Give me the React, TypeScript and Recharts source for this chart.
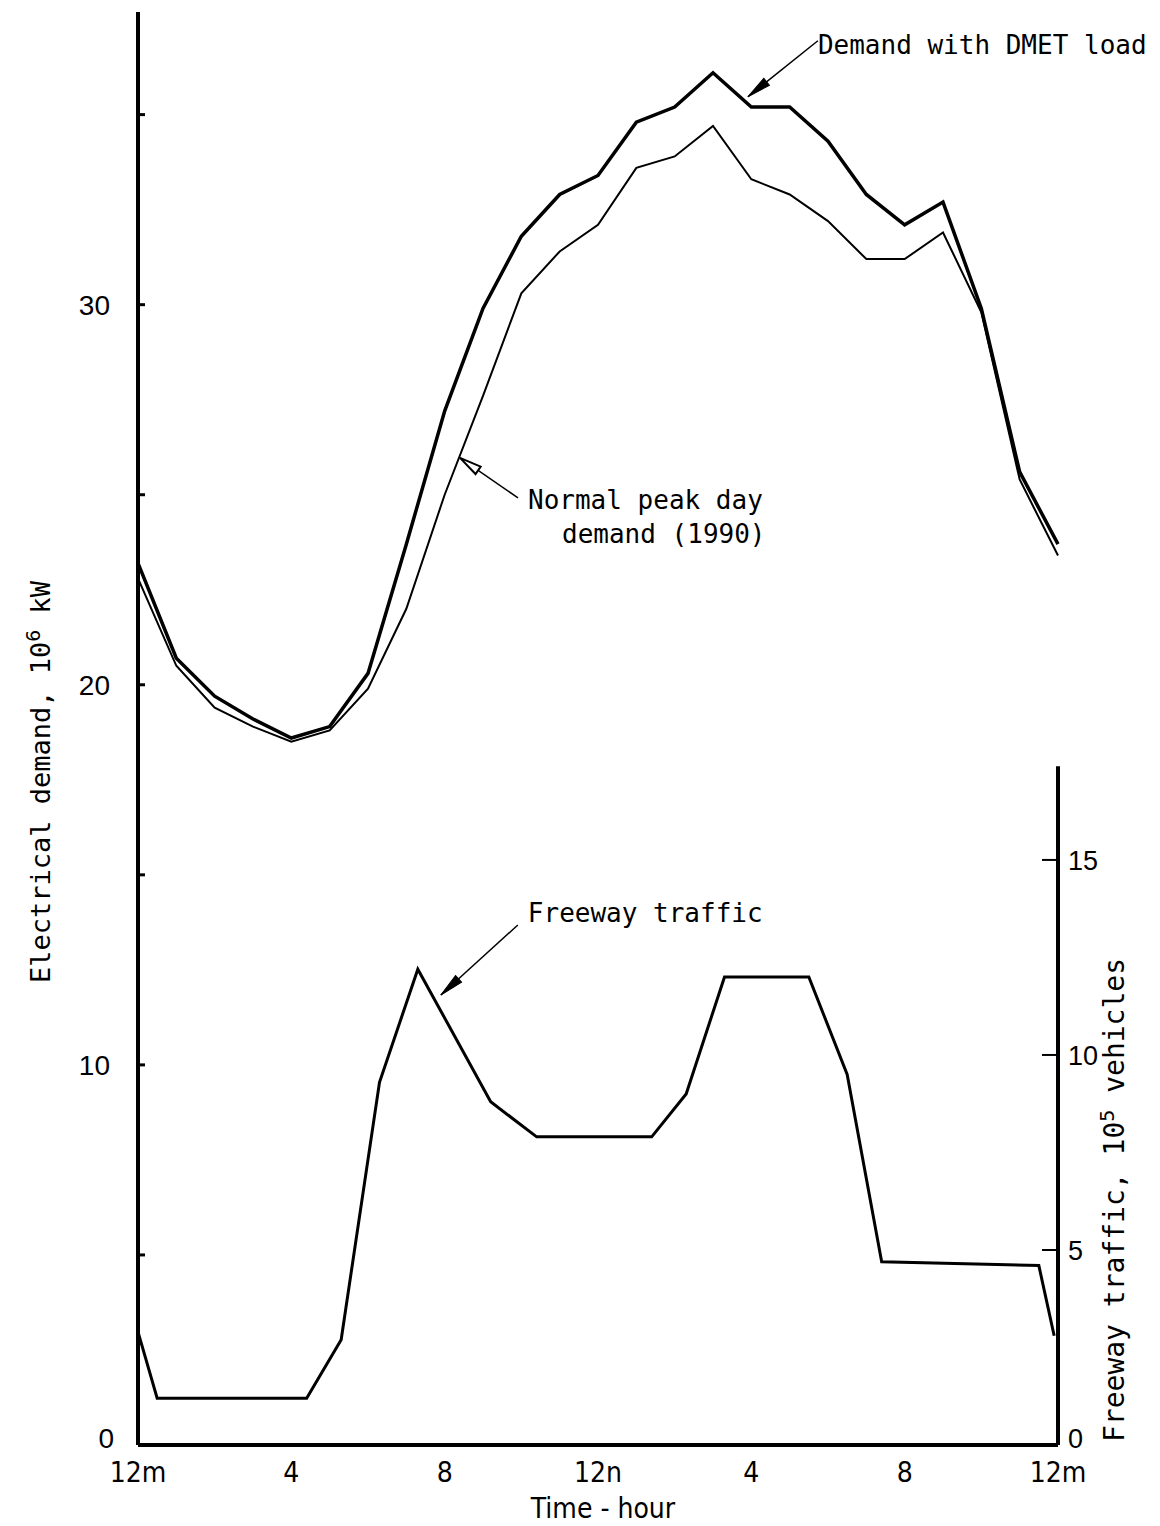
import { LineChart, Line, XAxis, YAxis, ReferenceLine, ReferenceDot } from "recharts";

// hour of day, 0 = midnight
const hours = [0, 1, 2, 3, 4, 5, 6, 7, 8, 9, 10, 11, 12, 13, 14, 15, 16, 17, 18, 19, 20, 21, 22, 23, 24];

// electrical demand, 10^6 kW
const demandWithDmet = [
  23.2, 20.7, 19.7, 19.1, 18.6, 18.9, 20.3, 23.7, 27.2, 29.9, 31.8, 32.9, 33.4,
  34.8, 35.2, 36.1, 35.2, 35.2, 34.3, 32.9, 32.1, 32.7, 29.9, 25.6, 23.7,
];
const normalDemand = [
  22.8, 20.5, 19.4, 18.9, 18.5, 18.8, 19.9, 22.0, 25.0, 27.6, 30.3, 31.4, 32.1,
  33.6, 33.9, 34.7, 33.3, 32.9, 32.2, 31.2, 31.2, 31.9, 29.8, 25.4, 23.4,
];

// freeway traffic, 10^5 vehicles
const trafficHours = [0, 0.5, 4.4, 5.3, 6.3, 7.3, 9.2, 10.4, 13.4, 14.3, 15.3, 17.5, 18.5, 19.4, 23.5, 23.9];
const trafficVehicles = [2.9, 1.2, 1.2, 2.7, 9.3, 12.2, 8.8, 7.9, 7.9, 9.0, 12.0, 12.0, 9.5, 4.7, 4.6, 2.8];

const hourTicks = [0, 4, 8, 12, 16, 20, 24];
const hourLabels = ["12m", "4", "8", "12n", "4", "8", "12m"];
const demandTicks = [0, 5, 10, 15, 20, 25, 30, 35];
const trafficTicks = [0, 5, 10, 15];

const demandData = hours.map((h, i) => ({ hour: h, dmet: demandWithDmet[i], normal: normalDemand[i] }));
const trafficData = trafficHours.map((h, i) => ({ hour: h, traffic: trafficVehicles[i] }));

const MONO = "'DejaVu Sans Mono', 'Liberation Mono', monospace";
const NARROW = "'Liberation Sans Narrow', 'DejaVu Sans Condensed', 'Liberation Sans', sans-serif";
const SANS = "'Liberation Sans', Arial, sans-serif";

const DemandTick = ({ x, y, payload }: any) => (
  <g>
    <line x1={x} x2={x + 7} y1={y} y2={y} stroke="#000" strokeWidth={3} />
    {payload.value % 10 === 0 && (
      <text x={x - (payload.value === 0 ? 24 : 28)} y={y} dy={payload.value === 0 ? 3 : 10} textAnchor="end" fontSize={28} fontFamily={SANS} fill="#000">
        {payload.value}
      </text>
    )}
  </g>
);

const TrafficTick = ({ x, y, payload }: any) => (
  <g>
    {payload.value > 0 && <line x1={x - 16} x2={x} y1={y} y2={y} stroke="#000" strokeWidth={2} />}
    <text x={x + 10} y={y} dy={payload.value === 0 ? 3 : 10} textAnchor="start" fontSize={27} fontFamily={SANS} fill="#000">
      {payload.value}
    </text>
  </g>
);

const HourTick = ({ x, y, payload, index }: any) => (
  <text x={x} y={y} dy={37} textAnchor="middle" fontSize={28} fontFamily={NARROW} fill="#000">
    {hourLabels[index] ?? payload.value}
  </text>
);

// leader + arrowhead + text, drawn around the arrow tip
const makeCallout = (dx: number, dy: number, lines: { text: string; dx: number; dy: number }[], hollow: boolean, len: number) =>
  (props: any) => {
    const { cx, cy } = props;
    const angle = (Math.atan2(dy, dx) * 180) / Math.PI;
    return (
      <g>
        <line x1={cx} y1={cy} x2={cx + dx} y2={cy + dy} stroke="#000" strokeWidth={1.5} />
        <polygon
          points={`0,0 ${len},-4.5 ${len},4.5`}
          transform={`translate(${cx},${cy}) rotate(${angle})`}
          fill={hollow ? "#fff" : "#000"}
          stroke="#000"
          strokeWidth={hollow ? 2 : 1}
        />
        {lines.map((l, i) => (
          <text key={i} x={cx + l.dx} y={cy + l.dy} fontSize={26} fontFamily={MONO} fill="#000">
            {l.text}
          </text>
        ))}
      </g>
    );
  };

const dmetCallout = makeCallout(70, -56, [{ text: "Demand with DMET load", dx: 70, dy: -43 }], false, 24);
const normalCallout = makeCallout(58, 40, [
  { text: "Normal peak day", dx: 68, dy: 51 },
  { text: "demand (1990)", dx: 102, dy: 85 },
], true, 22);
const trafficCallout = makeCallout(77, -70, [{ text: "Freeway traffic", dx: 87, dy: -73 }], false, 24);

export default function App() {
  return (
    <div style={{ position: "relative", width: 1160, height: 1526, background: "#fff" }}>
      <style>{"body{margin:0;background:#fff}"}</style>
      <LineChart width={1160} height={1526} margin={{ top: 12, right: 22, bottom: 31, left: 58 }}>
        <XAxis
          dataKey="hour"
          type="number"
          domain={[0, 24]}
          ticks={hourTicks}
          tick={<HourTick />}
          tickSize={0}
          tickMargin={0}
          height={50}
          axisLine={{ stroke: "#000", strokeWidth: 4 }}
          allowDuplicatedCategory={false}
        />
        <YAxis
          yAxisId="left"
          type="number"
          domain={[0, 37.7]}
          ticks={demandTicks}
          tick={<DemandTick />}
          tickSize={0}
          tickMargin={0}
          width={80}
          axisLine={{ stroke: "#000", strokeWidth: 4 }}
          allowDataOverflow
        />
        <YAxis
          yAxisId="right"
          orientation="right"
          type="number"
          domain={[0, 36.74]}
          ticks={trafficTicks}
          tick={<TrafficTick />}
          tickSize={0}
          tickMargin={0}
          width={80}
          axisLine={false}
          allowDataOverflow
        />
        <ReferenceLine
          yAxisId="right"
          segment={[{ x: 24, y: 0 }, { x: 24, y: 17.4 }]}
          stroke="#000"
          strokeWidth={4}
          ifOverflow="visible"
        />
        <Line
          yAxisId="left"
          data={demandData}
          dataKey="normal"
          type="linear"
          stroke="#000"
          strokeWidth={2}
          dot={false}
          isAnimationActive={false}
        />
        <Line
          yAxisId="left"
          data={demandData}
          dataKey="dmet"
          type="linear"
          stroke="#000"
          strokeWidth={3.5}
          dot={false}
          isAnimationActive={false}
        />
        <Line
          yAxisId="right"
          data={trafficData}
          dataKey="traffic"
          type="linear"
          stroke="#000"
          strokeWidth={3}
          dot={false}
          isAnimationActive={false}
        />
        <ReferenceDot yAxisId="left" x={15.91} y={35.47} r={0} shape={dmetCallout} ifOverflow="visible" />
        <ReferenceDot yAxisId="left" x={8.4} y={25.97} r={0} shape={normalCallout} ifOverflow="visible" />
        <ReferenceDot yAxisId="left" x={7.9} y={11.84} r={0} shape={trafficCallout} ifOverflow="visible" />
      </LineChart>
      <div
        style={{
          position: "absolute",
          left: 38,
          top: 782,
          transform: "translate(-50%, -50%) rotate(-90deg)",
          whiteSpace: "nowrap",
          fontFamily: MONO,
          fontSize: 27,
        }}
      >
        Electrical demand, 10<sup style={{ fontSize: 20 }}>6</sup> kW
      </div>
      <div
        style={{
          position: "absolute",
          left: 1113,
          top: 1200,
          transform: "translate(-50%, -50%) rotate(-90deg)",
          whiteSpace: "nowrap",
          fontFamily: MONO,
          fontSize: 28,
        }}
      >
        Freeway traffic, 10<sup style={{ fontSize: 20 }}>5</sup> vehicles
      </div>
      <div
        style={{
          position: "absolute",
          left: 603,
          top: 1508,
          transform: "translate(-50%, -50%)",
          whiteSpace: "nowrap",
          fontFamily: NARROW,
          fontSize: 28,
        }}
      >
        Time - hour
      </div>
    </div>
  );
}
